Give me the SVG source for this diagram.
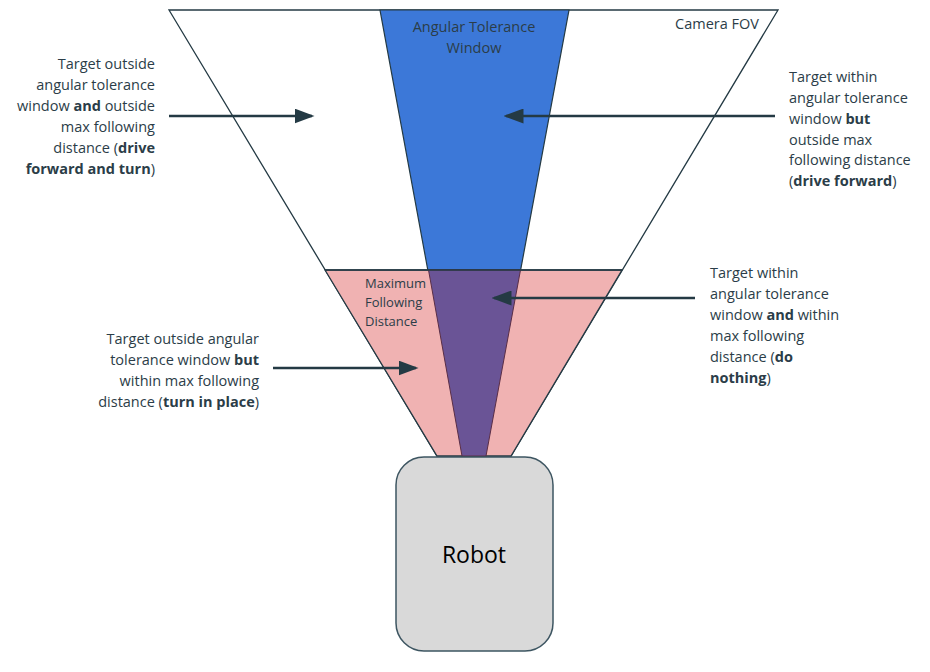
<svg xmlns="http://www.w3.org/2000/svg" width="930" height="672" viewBox="0 0 930 672">
<defs>
<style>
.t{font-family:"Open Sans","Noto Sans","Liberation Sans",sans-serif;font-size:14.5px;fill:#2b3d48}
.s{font-family:"Open Sans","Noto Sans","Liberation Sans",sans-serif;font-size:13px;fill:#2b3d48}
.r{text-anchor:end}
.b{font-weight:bold}
.edge{stroke:#243a44;stroke-width:1.3}
.arrow{stroke:#243a44;stroke-width:2.5;fill:none;marker-end:url(#ah)}
</style>
<marker id="ah" markerWidth="8" markerHeight="6" refX="7" refY="3" orient="auto" markerUnits="strokeWidth">
<path d="M0,0 L8,3 L0,6 Z" fill="#243a44"/>
</marker>
</defs>
<rect width="930" height="672" fill="#ffffff"/>
<g id="camera-fov">
<polygon points="169,10 778,10 511,456 437,456" fill="#ffffff" class="edge"/>
</g>
<g id="angular-window">
<polygon points="380,10 569,10 486,456 462,456" fill="#3c78d8" stroke="#243a44" stroke-width="1.2"/>
</g>
<g id="max-distance">
<polygon points="325,270 622,270 511,456 437,456" fill="#f0b2b2" class="edge"/>
<polygon points="428.5,270 520.5,270 486,456 462,456" fill="#6a5496" stroke="#5a2e46" stroke-width="1"/>
<line x1="325" y1="270" x2="622" y2="270" stroke="#243a44" stroke-width="1.3"/>
<text class="s" x="365" y="288">Maximum</text>
<text class="s" x="365" y="307">Following</text>
<text class="s" x="365" y="326">Distance</text>
</g>
<g id="labels-top">
<text class="t" x="474" y="32" text-anchor="middle">Angular Tolerance</text>
<text class="t" x="474" y="53" text-anchor="middle">Window</text>
<text class="t r" x="759" y="29">Camera FOV</text>
</g>
<g id="robot">
<rect x="396" y="457" width="157" height="194" rx="28" fill="#d9d9d9" stroke="#3d5561" stroke-width="1.5"/>
<text x="474" y="563" text-anchor="middle" font-family="'Open Sans','Noto Sans','Liberation Sans',sans-serif" font-size="23" fill="#000">Robot</text>
</g>
<g id="connectors">
<line class="arrow" x1="169" y1="116" x2="312" y2="116"/>
<line class="arrow" x1="775" y1="116" x2="506" y2="116"/>
<line class="arrow" x1="695" y1="298" x2="494" y2="298"/>
<line class="arrow" x1="273" y1="368" x2="416" y2="368"/>
</g>
<g id="note-drive-forward-turn">
<text class="t r" x="155" y="69">Target outside</text>
<text class="t r" x="155" y="90">angular tolerance</text>
<text class="t r" x="155" y="111">window <tspan class="b">and</tspan> outside</text>
<text class="t r" x="155" y="132">max following</text>
<text class="t r" x="155" y="153">distance (<tspan class="b">drive</tspan></text>
<text class="t r" x="155" y="174"><tspan class="b">forward and turn</tspan>)</text>
</g>
<g id="note-drive-forward">
<text class="t" x="789" y="82">Target within</text>
<text class="t" x="789" y="103">angular tolerance</text>
<text class="t" x="789" y="124">window <tspan class="b">but</tspan></text>
<text class="t" x="789" y="145">outside max</text>
<text class="t" x="789" y="165">following distance</text>
<text class="t" x="789" y="186">(<tspan class="b">drive forward</tspan>)</text>
</g>
<g id="note-do-nothing">
<text class="t" x="710" y="278">Target within</text>
<text class="t" x="710" y="299">angular tolerance</text>
<text class="t" x="710" y="320">window <tspan class="b">and</tspan> within</text>
<text class="t" x="710" y="341">max following</text>
<text class="t" x="710" y="362">distance (<tspan class="b">do</tspan></text>
<text class="t" x="710" y="383"><tspan class="b">nothing</tspan>)</text>
</g>
<g id="note-turn-in-place">
<text class="t r" x="259" y="344">Target outside angular</text>
<text class="t r" x="259" y="365">tolerance window <tspan class="b">but</tspan></text>
<text class="t r" x="259" y="386">within max following</text>
<text class="t r" x="259" y="407">distance (<tspan class="b">turn in place</tspan>)</text>
</g>
</svg>
